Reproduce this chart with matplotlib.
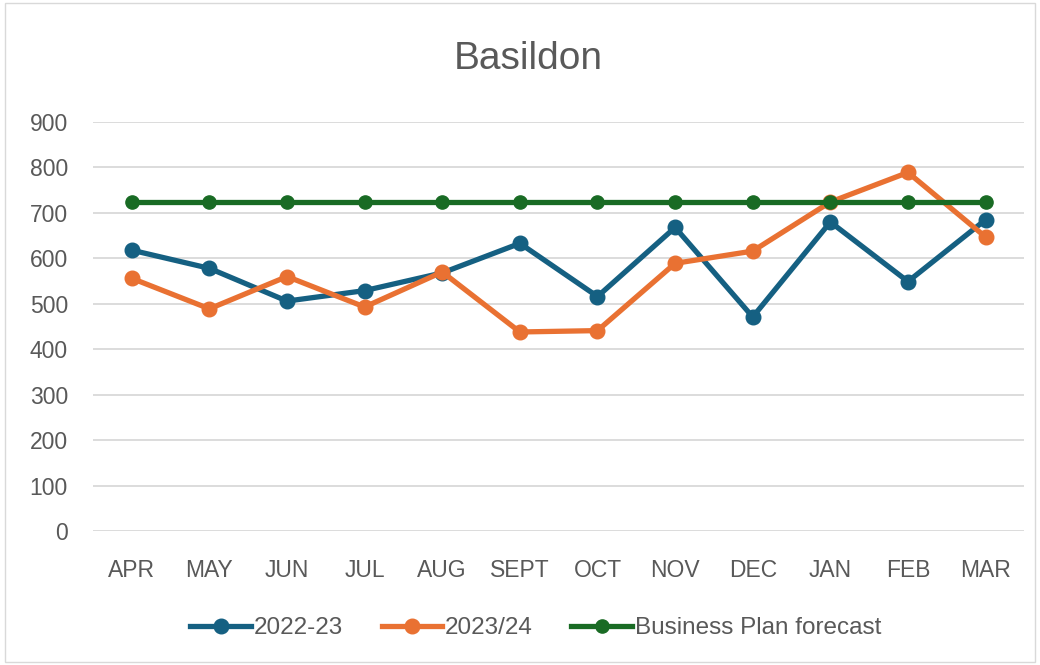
import matplotlib.pyplot as plt
from matplotlib.patches import Rectangle

plt.rcParams['font.family'] = ['Liberation Sans', 'DejaVu Sans']

title = "Basildon"
months = ["APR", "MAY", "JUN", "JUL", "AUG", "SEPT", "OCT", "NOV", "DEC", "JAN", "FEB", "MAR"]
y2223 = [618, 578, 506, 529, 568, 633, 516, 668, 471, 680, 549, 685]
y2324 = [556, 489, 560, 493, 570, 438, 441, 589, 616, 724, 789, 647]
forecast = [725] * 12

blue = "#156082"
orange = "#E97132"
green = "#196B24"
grey = "#595959"

fig = plt.figure(figsize=(10.4, 6.65), dpi=100)
ax = fig.add_axes([0.0894, 0.2015, 0.8956, 0.615])
fig.patches.append(Rectangle((0.005, 0.005), 0.99, 0.99, transform=fig.transFigure,
                             fill=False, edgecolor="#D9D9D9", linewidth=1))

xs = range(len(months))
ax.plot(xs, y2223, color=blue, lw=3.8, marker="o", ms=10.5, label="2022-23")
ax.plot(xs, y2324, color=orange, lw=3.8, marker="o", ms=10.5, label="2023/24")
ax.plot(xs, forecast, color=green, lw=3.8, marker="o", ms=9.5, label="Business Plan forecast")

ax.set_xlim(-0.5, len(months) - 0.5)
ax.set_ylim(0, 900)
ax.set_yticks(range(0, 901, 100))
ax.set_xticks(list(xs))
ax.set_xticklabels(months)
ax.tick_params(axis="both", length=0, labelsize=16.5, colors=grey)
ax.tick_params(axis="x", pad=20)
ax.tick_params(axis="y", pad=18)
ax.grid(axis="y", color="#D9D9D9", lw=1.3)
ax.set_axisbelow(True)
for s in ax.spines.values():
    s.set_visible(False)

fig.text(0.508, 0.912, title, ha="center", va="center", fontsize=28, color=grey)

fig.legend(loc="center", bbox_to_anchor=(0.515, 0.055), ncol=3, frameon=False,
           fontsize=17.5, labelcolor=grey, handlelength=2.5, handletextpad=0.1,
           columnspacing=1.6)

plt.savefig("out.png")
